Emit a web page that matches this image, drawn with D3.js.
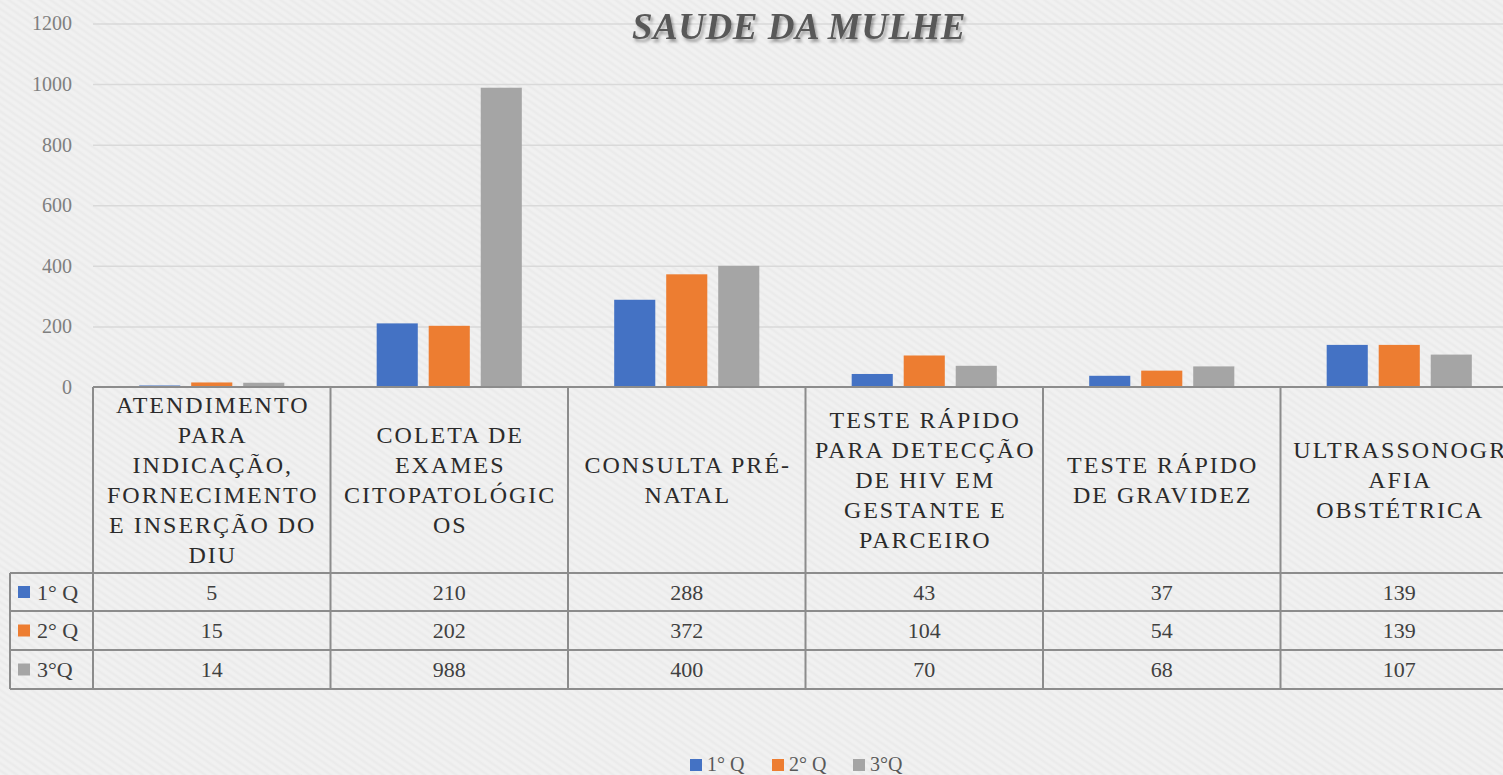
<!DOCTYPE html>
<html><head><meta charset="utf-8">
<script src="https://cdn.jsdelivr.net/npm/d3@7"></script>
<style>
html,body{margin:0;padding:0;background:#eeeeee;}
svg{display:block;}
</style></head>
<body>
<svg id="chart" width="1503" height="775"></svg>
<script>
const title = "SAUDE DA MULHE";
const categories = [
  "ATENDIMENTO\nPARA\nINDICAÇÃO,\nFORNECIMENTO\nE INSERÇÃO DO\nDIU",
  "COLETA DE\nEXAMES\nCITOPATOLÓGIC\nOS",
  "CONSULTA PRÉ-\nNATAL",
  "TESTE RÁPIDO\nPARA DETECÇÃO\nDE HIV EM\nGESTANTE E\nPARCEIRO",
  "TESTE RÁPIDO\nDE GRAVIDEZ",
  "ULTRASSONOGR\nAFIA\nOBSTÉTRICA"
];
const seriesNames = ["1° Q", "2° Q", "3°Q"];
const q1 = [5, 210, 288, 43, 37, 139];
const q2 = [15, 202, 372, 104, 54, 139];
const q3 = [14, 988, 400, 70, 68, 107];
const seriesValues = [q1, q2, q3];
const colors = ["#4472C4", "#ED7D31", "#A5A5A5"];
const yTicks = [0, 200, 400, 600, 800, 1000, 1200];

const svg = d3.select("#chart");
const font = "'Liberation Serif', 'Times New Roman', serif";

const plotLeft = 93, catW = 237.5;
const yBase = 387, yTop = 23.5;
const tableRows = [573, 611, 650, 689];
const tableLeft = 10;

const x = d3.scaleBand().domain(categories).range([plotLeft, plotLeft + catW * categories.length]).padding(0);
const x1 = d3.scaleBand().domain(seriesNames).range([0, x.bandwidth()]).paddingInner(0.21).paddingOuter(0.888);
const y = d3.scaleLinear().domain([0, 1200]).range([yBase, yTop]);

// defs: shadow + background texture
const defs = svg.append("defs");
const f = defs.append("filter").attr("id","sh").attr("x","-10%").attr("y","-30%").attr("width","120%").attr("height","160%");
f.append("feDropShadow").attr("dx",2).attr("dy",3).attr("stdDeviation",1.5).attr("flood-color","#000").attr("flood-opacity",0.35);
const pat = defs.append("pattern").attr("id","tex").attr("width",6).attr("height",6).attr("patternUnits","userSpaceOnUse").attr("patternTransform","rotate(35)");
pat.append("rect").attr("width",6).attr("height",6).attr("fill","#efefef");
pat.append("line").attr("x1",0).attr("x2",6).attr("y1",1).attr("y2",1).attr("stroke","#e8e8e8").attr("stroke-width",1);
pat.append("line").attr("x1",0).attr("x2",6).attr("y1",4).attr("y2",4).attr("stroke","#f4f4f4").attr("stroke-width",1);
svg.append("rect").attr("width",1503).attr("height",775).attr("fill","url(#tex)");

// gridlines
const yAxis = d3.axisLeft(y).tickValues(yTicks).tickSize(-(1503 - plotLeft)).tickPadding(21).tickFormat(d3.format("d"));
const ga = svg.append("g").attr("transform", `translate(${plotLeft},0)`).call(yAxis);
ga.select(".domain").remove();
ga.selectAll(".tick line").attr("stroke", "#d9d9d9").attr("stroke-width", 1.5);
ga.selectAll(".tick text").attr("font-family", font).attr("font-size", 20).attr("fill", "#7f7f7f");
ga.selectAll(".tick").filter(d => d === 0).select("line").remove();

// bars
const gcat = svg.append("g").selectAll("g").data(categories).join("g")
  .attr("transform", d => `translate(${x(d)},0)`);
gcat.selectAll("rect").data((d, i) => seriesNames.map((s, j) => ({s, v: seriesValues[j][i], c: colors[j]})))
  .join("rect")
  .attr("x", d => x1(d.s)).attr("width", x1.bandwidth())
  .attr("y", d => y(d.v)).attr("height", d => yBase - y(d.v))
  .attr("fill", d => d.c);

// table lines
const lineC = "#8c8c8c", lw = 2;
const right = 1503;
const tl = svg.append("g").attr("stroke", lineC).attr("stroke-width", lw);
tl.append("line").attr("x1", plotLeft).attr("x2", right).attr("y1", yBase).attr("y2", yBase);
tableRows.forEach(r => tl.append("line").attr("x1", tableLeft).attr("x2", right).attr("y1", r).attr("y2", r));
tl.append("line").attr("x1", tableLeft).attr("x2", tableLeft).attr("y1", tableRows[0]).attr("y2", tableRows[3]);
categories.forEach(c => {
  tl.append("line").attr("x1", x(c)).attr("x2", x(c)).attr("y1", yBase).attr("y2", tableRows[3]);
});

// header text
const hdr = svg.append("g").attr("font-family", font).attr("font-size", 24).attr("letter-spacing", 2)
  .attr("fill", "#2b2b2b").attr("text-anchor", "middle");
categories.forEach(c => {
  const lines = c.split("\n");
  const lh = 30;
  const mid = (yBase + tableRows[0]) / 2;
  const start = mid - (lines.length - 1) * lh / 2;
  const cx = x(c) + x.bandwidth() / 2 + 1;
  const t = hdr.append("text").attr("x", cx);
  lines.forEach((ln, k) => t.append("tspan").attr("x", cx).attr("y", start + k * lh).attr("dy", "0.35em").text(ln));
});

// value rows
const vals = svg.append("g").attr("font-family", font).attr("font-size", 22).attr("fill", "#404040");
seriesNames.forEach((s, j) => {
  const yc = (tableRows[j] + tableRows[j + 1]) / 2;
  vals.append("rect").attr("x", 18).attr("y", yc - 6).attr("width", 12).attr("height", 12).attr("fill", colors[j]);
  vals.append("text").attr("x", 37).attr("y", yc).attr("dy", "0.35em").text(s);
  categories.forEach((c, i) => {
    vals.append("text").attr("x", x(c) + x.bandwidth() / 2).attr("y", yc).attr("dy", "0.35em")
      .attr("text-anchor", "middle").text(seriesValues[j][i]);
  });
});

// title
svg.append("text").attr("x", 799).attr("y", 26).attr("dy", "0.35em").attr("text-anchor", "middle")
  .attr("font-family", font).attr("font-size", 37).attr("font-weight", "bold").attr("font-style", "italic")
  .attr("letter-spacing", 0.5)
  .attr("fill", "#595959").attr("filter", "url(#sh)").text(title);

// legend
const lg = svg.append("g").attr("font-family", font).attr("font-size", 20).attr("fill", "#595959");
const legX = [690, 772, 853];
seriesNames.forEach((s, j) => {
  lg.append("rect").attr("x", legX[j]).attr("y", 759).attr("width", 12).attr("height", 12).attr("fill", colors[j]);
  lg.append("text").attr("x", legX[j] + 17).attr("y", 771).text(s);
});
</script>
</body></html>
